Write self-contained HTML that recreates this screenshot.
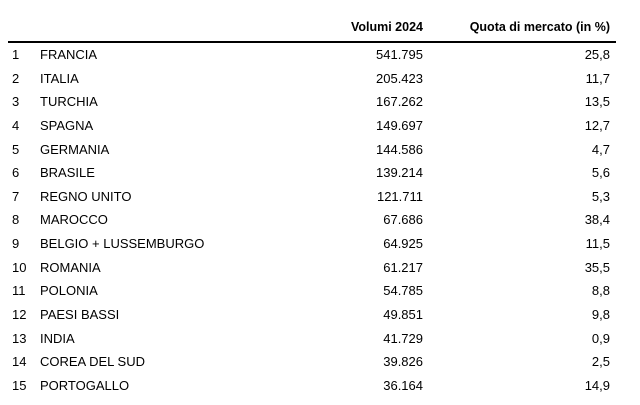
<!DOCTYPE html>
<html><head><meta charset="utf-8"><style>
body{margin:0;width:640px;height:405px;background:#fff;font-family:"Liberation Sans",Arial,sans-serif;color:#000;position:relative;overflow:hidden}
.t{position:absolute;font-size:13px;line-height:16px;white-space:nowrap}
.r{text-align:right}
.h{font-weight:bold;font-size:12.5px;top:19px}
.line{position:absolute;left:8px;top:41px;width:608px;height:2px;background:#000}
</style></head><body>
<div class="t h r" style="right:217px">Volumi 2024</div>
<div class="t h r" style="right:30px">Quota di mercato (in %)</div>
<div class="line"></div>
<div id="rows"></div>
<script>
var d=[["FRANCIA","541.795","25,8"],["ITALIA","205.423","11,7"],["TURCHIA","167.262","13,5"],["SPAGNA","149.697","12,7"],["GERMANIA","144.586","4,7"],["BRASILE","139.214","5,6"],["REGNO UNITO","121.711","5,3"],["MAROCCO","67.686","38,4"],["BELGIO + LUSSEMBURGO","64.925","11,5"],["ROMANIA","61.217","35,5"],["POLONIA","54.785","8,8"],["PAESI BASSI","49.851","9,8"],["INDIA","41.729","0,9"],["COREA DEL SUD","39.826","2,5"],["PORTOGALLO","36.164","14,9"]];
var h="";d.forEach(function(r,i){var y=47+i*23.64;
h+='<div class="t" style="left:12px;top:'+y+'px">'+(i+1)+'</div>'+
'<div class="t" style="left:40px;top:'+y+'px">'+r[0]+'</div>'+
'<div class="t r" style="right:217px;top:'+y+'px">'+r[1]+'</div>'+
'<div class="t r" style="right:30px;top:'+y+'px">'+r[2]+'</div>';});
document.getElementById("rows").innerHTML=h;
</script>
</body></html>
